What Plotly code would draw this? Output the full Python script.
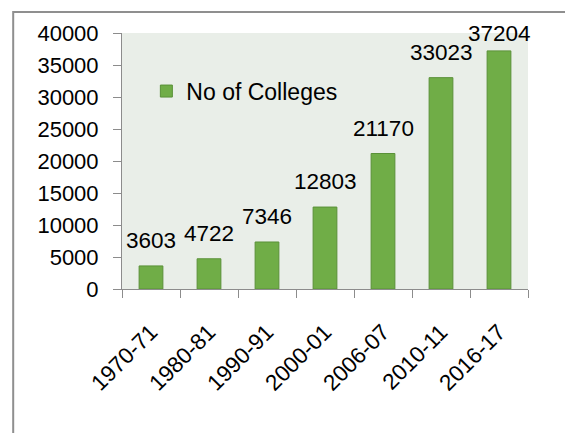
import plotly.graph_objects as go

categories = ["1970-71", "1980-81", "1990-91", "2000-01", "2006-07", "2010-11", "2016-17"]
colleges = [3603, 4722, 7346, 12803, 21170, 33023, 37204]
series_name = "No of Colleges"
y_ticks = [0, 5000, 10000, 15000, 20000, 25000, 30000, 35000, 40000]

FONT = "Liberation Sans, Arial, sans-serif"
GREEN = "#70AD47"
GREEN_EDGE = "#5A9138"
AXIS = "#8C8C8C"
LABEL_CAP = 36000  # labels cannot rise above the chart top

fig = go.Figure()
fig.add_trace(go.Bar(
    x=categories, y=colleges, name=series_name,
    marker=dict(color=GREEN, line=dict(color=GREEN_EDGE, width=1)),
    width=0.41,
))

for c, v in zip(categories, colleges):
    fig.add_annotation(x=c, y=min(v, LABEL_CAP), text=str(v), showarrow=False,
                       yanchor="bottom", yshift=11,
                       font=dict(family=FONT, size=22.5, color="#000"))

# page body has an 8px margin; figure sized to fill the rest of the window
fig.update_layout(
    width=565, height=425,
    margin=dict(l=114, r=45, t=25, b=144),
    paper_bgcolor="white",
    plot_bgcolor="#E9EEE8",
    font=dict(family=FONT, size=22, color="#000"),
    showlegend=True,
    legend=dict(x=0.06, y=0.773, xanchor="left", yanchor="middle",
                bgcolor="rgba(0,0,0,0)", font=dict(size=23)),
    bargap=0.59,
    shapes=[dict(type="rect", xref="paper", yref="paper",
                 x0=-0.268, x1=1.3, y0=-1.0, y1=1.082,
                 line=dict(color="#8F8F8F", width=2), fillcolor="rgba(0,0,0,0)",
                 layer="below")],
)
fig.update_xaxes(
    type="category",
    tickangle=-45, showline=True, linecolor=AXIS, linewidth=1,
    ticks="outside", ticklen=8, tickcolor=AXIS, tickson="boundaries",
    showgrid=False, range=[-0.5, 6.5], tickfont=dict(size=22.5),
    ticklabelstandoff=20,
)
fig.update_yaxes(
    range=[0, 40000], tickvals=y_ticks, tickformat="d", showline=True, linecolor=AXIS, linewidth=1,
    ticks="outside", ticklen=8, tickcolor=AXIS, showgrid=False, zeroline=False,
    tickfont=dict(size=22), ticklabelstandoff=10,
)
fig.write_html("out.html")
